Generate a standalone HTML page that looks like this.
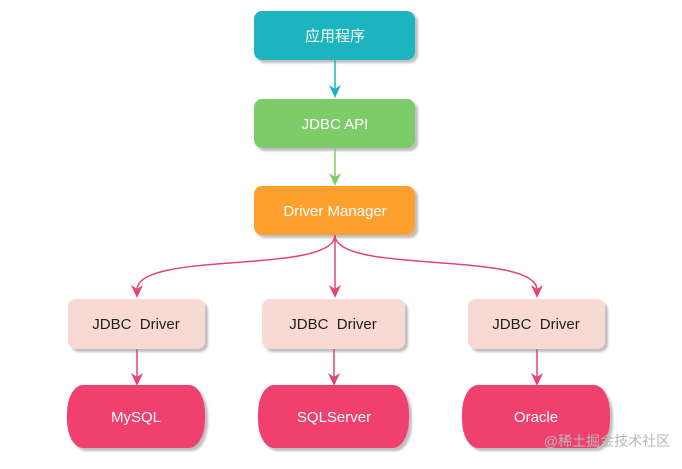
<!DOCTYPE html>
<html><head><meta charset="utf-8"><style>
body{margin:0;background:#fff;width:682px;height:464px;overflow:hidden;font-family:"Liberation Sans","Noto Sans CJK SC",sans-serif}
text{white-space:pre}
</style></head><body>
<svg width="682" height="464" xmlns="http://www.w3.org/2000/svg" font-family="Liberation Sans, Noto Sans CJK SC, sans-serif">
<defs>
<filter id="s" x="-10%" y="-10%" width="130%" height="140%"><feDropShadow dx="3" dy="3" stdDeviation="1" flood-color="#000" flood-opacity="0.25"/></filter>
</defs>
<g filter="url(#s)">
<rect x="254" y="11" width="161" height="49" rx="8" fill="#1db4bf"/>
<rect x="254" y="99" width="161" height="49" rx="8" fill="#7dcc6a"/>
<rect x="254" y="186" width="161" height="49" rx="8" fill="#fea02e"/>
<rect x="68" y="299" width="137" height="50" rx="8" fill="#f9d9d4"/>
<rect x="262" y="299" width="143" height="50" rx="8" fill="#f9d9d4"/>
<rect x="468" y="299" width="137" height="50" rx="8" fill="#f9d9d4"/>
<rect x="67" y="385" width="138" height="63" rx="16" ry="28" fill="#ef416e"/>
<rect x="258" y="385" width="151" height="63" rx="16" ry="28" fill="#ef416e"/>
<rect x="462" y="385" width="148" height="63" rx="16" ry="28" fill="#ef416e"/>
</g>
<g fill="none" stroke-width="1.5">
<path d="M335 60 V90" stroke="#1db4bf"/>
<path d="M335 148 V178" stroke="#7dcc6a"/>
<g stroke="#e0466f">
<path d="M335 235 C335 275 137 250 137 290"/>
<path d="M335 235 V290"/>
<path d="M335 235 C335 275 537 250 537 290"/>
<path d="M137 349 V378"/>
<path d="M334 349 V378"/>
<path d="M537 349 V378"/>
</g>
</g>
<path d="M329 85 L335 98 L341 85 L335 89Z" fill="#1db4bf"/>
<path d="M329 173 L335 186 L341 173 L335 177Z" fill="#7dcc6a"/>
<g fill="#e0466f">
<path d="M131 285 L137 298 L143 285 L137 289Z"/>
<path d="M329 285 L335 298 L341 285 L335 289Z"/>
<path d="M531 285 L537 298 L543 285 L537 289Z"/>
<path d="M131 373 L137 386 L143 373 L137 377Z"/>
<path d="M328 373 L334 386 L340 373 L334 377Z"/>
<path d="M531 373 L537 386 L543 373 L537 377Z"/>
</g>
<g font-size="15" text-anchor="middle" fill="#fff">
<text x="335" y="41">应用程序</text>
<text x="335" y="129">JDBC API</text>
<text x="335" y="216">Driver Manager</text>
<text x="136" y="422">MySQL</text>
<text x="334" y="422">SQLServer</text>
<text x="536" y="422">Oracle</text>
</g>
<g font-size="15" text-anchor="middle" fill="#222">
<text x="136" y="329">JDBC  Driver</text>
<text x="333" y="329">JDBC  Driver</text>
<text x="536" y="329">JDBC  Driver</text>
</g>
<text x="607" y="446" font-size="14" text-anchor="middle" fill="#b8b8b8">@稀土掘金技术社区</text>
</svg>
</body></html>
